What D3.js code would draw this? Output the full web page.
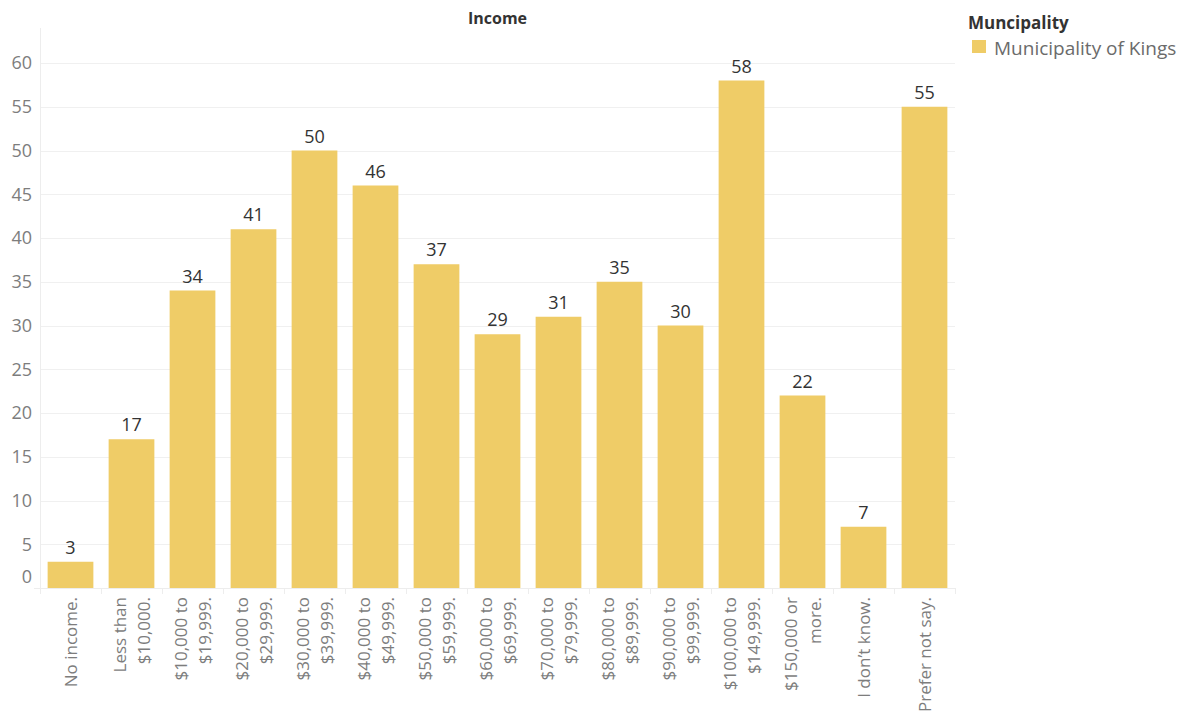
<!DOCTYPE html>
<html>
<head>
<meta charset="utf-8">
<script src="https://cdn.jsdelivr.net/npm/d3@7"></script>
<style>
  html, body { margin: 0; padding: 0; background: #fff; }
  svg { display: block; font-family: "Open Sans", "Noto Sans", sans-serif; }
</style>
</head>
<body>
<svg id="chart" width="1185" height="719"></svg>
<script>
// Income brackets (each split into the lines shown under the bar)
const categories = [
  ["No income."],
  ["Less than", "$10,000."],
  ["$10,000 to", "$19,999."],
  ["$20,000 to", "$29,999."],
  ["$30,000 to", "$39,999."],
  ["$40,000 to", "$49,999."],
  ["$50,000 to", "$59,999."],
  ["$60,000 to", "$69,999."],
  ["$70,000 to", "$79,999."],
  ["$80,000 to", "$89,999."],
  ["$90,000 to", "$99,999."],
  ["$100,000 to", "$149,999."],
  ["$150,000 or", "more."],
  ["I don\u2019t know."],
  ["Prefer not say."]
];
const counts = [3, 17, 34, 41, 50, 46, 37, 29, 31, 35, 30, 58, 22, 7, 55];
const yTicks = [0, 5, 10, 15, 20, 25, 30, 35, 40, 45, 50, 55, 60];
const seriesName = "Municipality of Kings";
const legendTitle = "Muncipality";
const chartTitle = "Income";

const svg = d3.select("#chart");
const plotLeft = 40, plotRight = 955, plotTop = 28, plotBottom = 588;
const barColor = "#efcc67";

const keys = categories.map((c, i) => i);
const x = d3.scaleBand().domain(keys).range([plotLeft, plotRight]).paddingInner(0.25).paddingOuter(0.125);
const y = d3.scaleLinear().domain([0, 64]).range([plotBottom, plotTop]);

// gridlines
svg.append("g").selectAll("line").data(yTicks.filter(t => t > 0)).join("line")
  .attr("x1", plotLeft).attr("x2", plotRight)
  .attr("y1", d => Math.round(y(d)) + 0.5).attr("y2", d => Math.round(y(d)) + 0.5)
  .attr("stroke", "#f0f0f0").attr("stroke-width", 1);

// y axis line
svg.append("line").attr("x1", plotLeft + 0.5).attr("x2", plotLeft + 0.5)
  .attr("y1", plotTop).attr("y2", plotBottom + 6)
  .attr("stroke", "#ededed");

// y tick labels
svg.append("g").selectAll("text").data(yTicks).join("text")
  .attr("x", 32)
  .attr("y", d => d === 0 ? y(d) - 11 : y(d))
  .attr("dy", "0.36em")
  .attr("text-anchor", "end")
  .attr("font-size", 18)
  .attr("fill", "#7d7d7d")
  .text(d => d);

// bars
svg.append("g").selectAll("rect").data(counts).join("rect")
  .attr("x", (d, i) => x(i))
  .attr("width", x.bandwidth())
  .attr("y", d => y(d))
  .attr("height", d => y(0) - y(d))
  .attr("fill", barColor);

// bottom axis line and category separators
svg.append("line").attr("x1", plotLeft - 6).attr("x2", plotRight)
  .attr("y1", plotBottom + 0.5).attr("y2", plotBottom + 0.5)
  .attr("stroke", "#ededed");
const step = x.step();
svg.append("g").selectAll("line").data(d3.range(categories.length + 1)).join("line")
  .attr("x1", d => Math.round(plotLeft + d * step) + 0.5)
  .attr("x2", d => Math.round(plotLeft + d * step) + 0.5)
  .attr("y1", plotBottom).attr("y2", plotBottom + 6)
  .attr("stroke", "#ededed");

// value labels
svg.append("g").selectAll("text").data(counts).join("text")
  .attr("x", (d, i) => x(i) + x.bandwidth() / 2)
  .attr("y", d => y(d) - 8)
  .attr("text-anchor", "middle")
  .attr("font-size", 18)
  .attr("fill", "#333")
  .text(d => d);

// category labels, rotated
const lineGap = 24;
const catG = svg.append("g").selectAll("g").data(categories).join("g")
  .attr("transform", (d, i) => `translate(${x(i) + x.bandwidth() / 2},${plotBottom + 9}) rotate(-90)`);
catG.each(function(lines) {
  const g = d3.select(this);
  const n = lines.length;
  lines.forEach((ln, j) => {
    g.append("text")
      .attr("x", 0)
      .attr("y", (j - (n - 1) / 2) * lineGap)
      .attr("dy", "0.36em")
      .attr("text-anchor", "end")
      .attr("font-size", 17)
      .attr("fill", "#7d7d7d")
      .text(ln);
  });
});

// title
svg.append("text")
  .attr("x", (plotLeft + plotRight) / 2).attr("y", 24)
  .attr("text-anchor", "middle")
  .attr("font-size", 16).attr("font-weight", "bold")
  .attr("fill", "#333")
  .text(chartTitle);

// legend
svg.append("text").attr("x", 968).attr("y", 29)
  .attr("font-size", 17).attr("font-weight", "bold").attr("fill", "#333")
  .text(legendTitle);
svg.append("rect").attr("x", 972).attr("y", 40).attr("width", 14).attr("height", 13)
  .attr("fill", barColor);
svg.append("text").attr("x", 994).attr("y", 48).attr("dy", "0.36em")
  .attr("font-size", 19).attr("fill", "#6b6b6b")
  .text(seriesName);
</script>
</body>
</html>
